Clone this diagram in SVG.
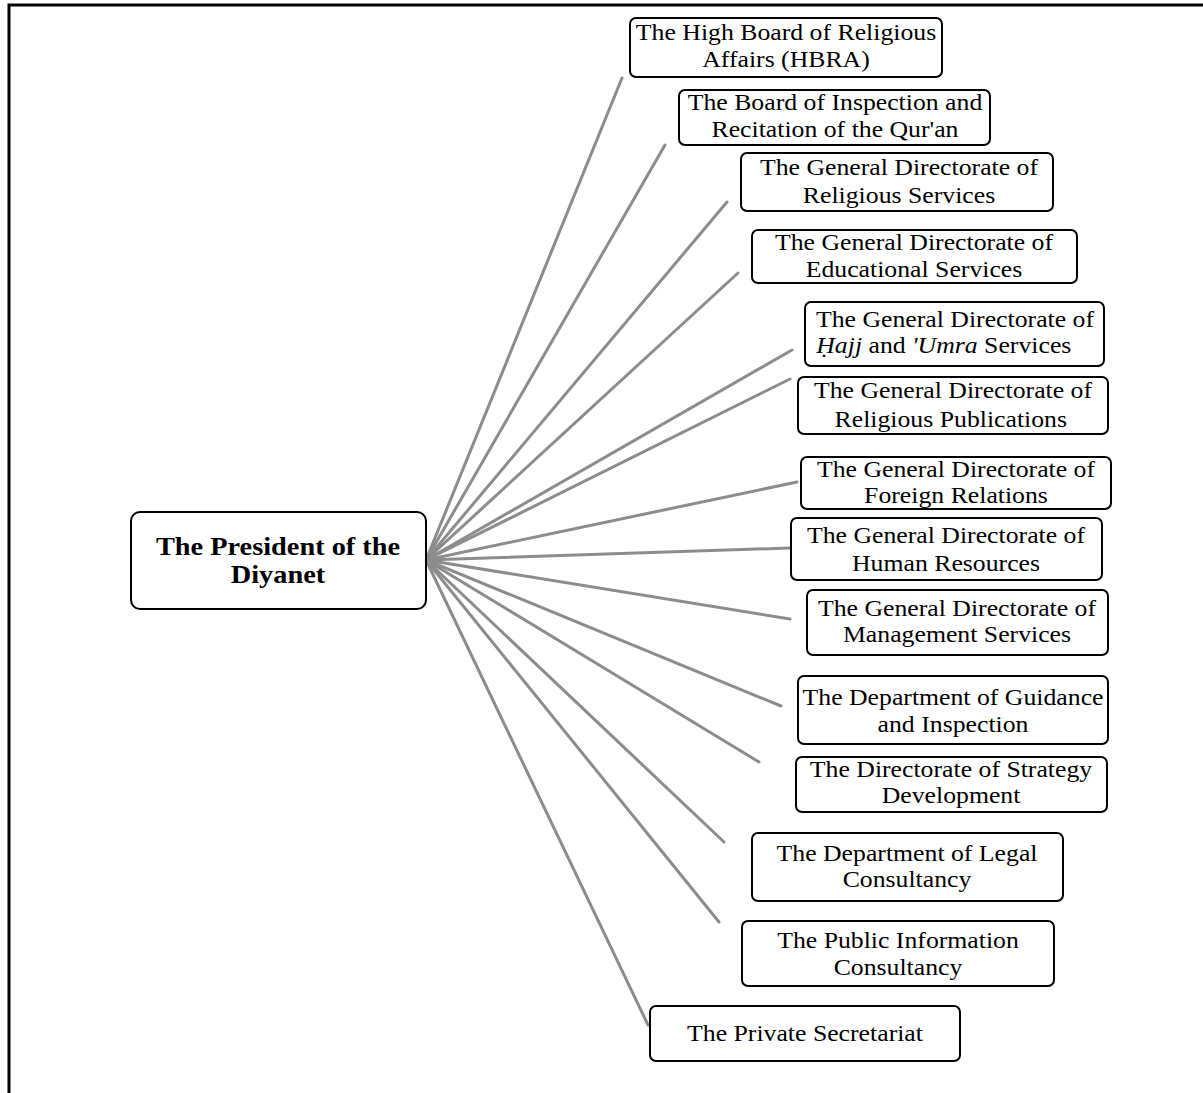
<svg xmlns="http://www.w3.org/2000/svg" width="1203" height="1093" viewBox="0 0 1203 1093">
<style>
.box{fill:#fff;stroke:#000;stroke-width:2}
text{font-family:'Liberation Serif','Times New Roman',Times,serif;font-size:23px;fill:#000;text-anchor:middle}
.b{font-weight:bold;font-size:26px}
.c line{stroke:#8c8c8c;stroke-width:3;stroke-linecap:round}
</style>
<rect x="0" y="0" width="1203" height="1093" fill="#fff"/>
<path d="M9,1093 V5 H1203" fill="none" stroke="#000" stroke-width="3"/>
<g class="c" id="connectors">
<line x1="426" y1="560" x2="622" y2="78"/>
<line x1="426" y1="560" x2="665" y2="145"/>
<line x1="426" y1="560" x2="727" y2="202"/>
<line x1="426" y1="560" x2="738" y2="273"/>
<line x1="426" y1="560" x2="792" y2="350"/>
<line x1="426" y1="560" x2="790" y2="379"/>
<line x1="426" y1="560" x2="797" y2="482"/>
<line x1="426" y1="560" x2="790" y2="548"/>
<line x1="426" y1="560" x2="790" y2="619"/>
<line x1="426" y1="560" x2="781" y2="706"/>
<line x1="426" y1="560" x2="759" y2="762"/>
<line x1="426" y1="560" x2="724" y2="842"/>
<line x1="426" y1="560" x2="719" y2="922"/>
<line x1="426" y1="560" x2="648" y2="1025"/>
</g>
<g id="president">
<rect class="box" x="131" y="512" width="295" height="97" rx="9"/>
<g transform="translate(278 0) scale(1.09 1)">
<text class="b" x="0" y="555">The President of the</text>
<text class="b" x="0" y="583">Diyanet</text>
</g>
</g>
<g id="hbra">
<rect class="box" x="630" y="18" width="312" height="59" rx="6"/>
<g transform="translate(786 0) scale(1.12 1)">
<text x="0" y="40">The High Board of Religious</text>
<text x="0" y="67">Affairs (HBRA)</text>
</g>
</g>
<g id="inspection">
<rect class="box" x="679" y="90" width="311" height="55" rx="6"/>
<g transform="translate(835 0) scale(1.12 1)">
<text x="0" y="110">The Board of Inspection and</text>
<text x="0" y="137">Recitation of the Qur'an</text>
</g>
</g>
<g id="religious-services">
<rect class="box" x="741" y="153" width="312" height="58" rx="6"/>
<g transform="translate(899 0) scale(1.12 1)">
<text x="0" y="175">The General Directorate of</text>
<text x="0" y="203">Religious Services</text>
</g>
</g>
<g id="educational">
<rect class="box" x="752" y="230" width="325" height="53" rx="6"/>
<g transform="translate(914 0) scale(1.12 1)">
<text x="0" y="250">The General Directorate of</text>
<text x="0" y="277">Educational Services</text>
</g>
</g>
<g id="hajj">
<rect class="box" x="805" y="302" width="299" height="64" rx="6"/>
<g transform="translate(955 0) scale(1.12 1)">
<text x="0" y="327">The General Directorate of</text>
<text x="-10" y="353"><tspan font-style="italic">Ḥajj</tspan> and  <tspan font-style="italic">'Umra</tspan> Services</text>
</g>
</g>
<g id="publications">
<rect class="box" x="798" y="377" width="310" height="57" rx="6"/>
<g transform="translate(953 0) scale(1.12 1)">
<text x="0" y="398">The General Directorate of</text>
<text x="-2" y="427">Religious Publications</text>
</g>
</g>
<g id="foreign">
<rect class="box" x="801" y="457" width="310" height="52" rx="6"/>
<g transform="translate(956 0) scale(1.12 1)">
<text x="0" y="477">The General Directorate of</text>
<text x="0" y="503">Foreign Relations</text>
</g>
</g>
<g id="human">
<rect class="box" x="791" y="518" width="311" height="62" rx="6"/>
<g transform="translate(946 0) scale(1.12 1)">
<text x="0" y="543">The General Directorate of</text>
<text x="0" y="571">Human Resources</text>
</g>
</g>
<g id="management">
<rect class="box" x="807" y="590" width="301" height="65" rx="6"/>
<g transform="translate(957 0) scale(1.12 1)">
<text x="0" y="616">The General Directorate of</text>
<text x="0" y="642">Management Services</text>
</g>
</g>
<g id="guidance">
<rect class="box" x="798" y="676" width="310" height="68" rx="6"/>
<g transform="translate(953 0) scale(1.12 1)">
<text x="0" y="705">The Department of Guidance</text>
<text x="0" y="732">and Inspection</text>
</g>
</g>
<g id="strategy">
<rect class="box" x="796" y="757" width="311" height="55" rx="6"/>
<g transform="translate(951 0) scale(1.12 1)">
<text x="0" y="777">The Directorate of Strategy</text>
<text x="0" y="803">Development</text>
</g>
</g>
<g id="legal">
<rect class="box" x="752" y="833" width="311" height="68" rx="6"/>
<g transform="translate(907 0) scale(1.12 1)">
<text x="0" y="861">The Department of Legal</text>
<text x="0" y="887">Consultancy</text>
</g>
</g>
<g id="public-info">
<rect class="box" x="742" y="921" width="312" height="65" rx="6"/>
<g transform="translate(898 0) scale(1.12 1)">
<text x="0" y="948">The Public Information</text>
<text x="0" y="975">Consultancy</text>
</g>
</g>
<g id="private">
<rect class="box" x="650" y="1006" width="310" height="55" rx="6"/>
<g transform="translate(805 0) scale(1.12 1)">
<text x="0" y="1041">The Private Secretariat</text>
</g>
</g>
</svg>
